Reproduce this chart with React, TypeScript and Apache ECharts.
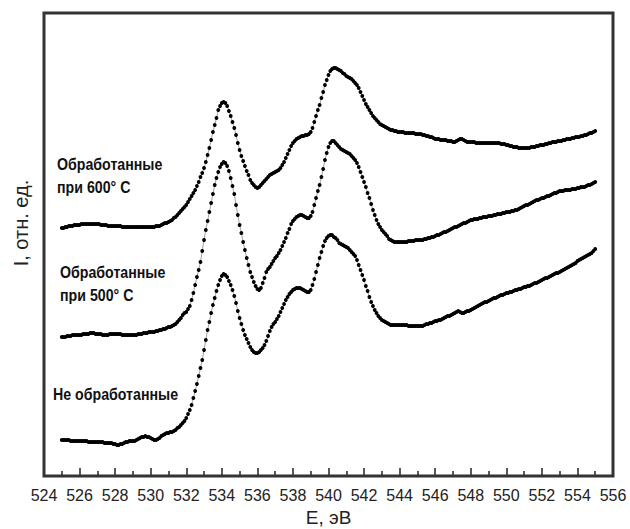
import React, { useEffect, useRef } from "react";
import * as echarts from "echarts";

// Energy grid of the spectra (eV): first point and sampling step
const ENERGY_START = 525;
const ENERGY_STEP = 0.1;

// Axis ticks (eV)
const X_MIN = 524;
const X_MAX = 556;
const X_INTERVAL = 2;
const Y_MIN = -6;
const Y_MAX = 457;

// Intensities (arbitrary units), one value per 0.1 eV from 525.0 to 555.0
const treated600 = [
  242,242,243,243,244,244,244,245,245,245,
  245,246,246,246,246,246,246,246,246,246,
  246,246,245,245,245,245,244,244,244,244,
  244,244,244,244,243,243,243,243,243,243,
  243,243,243,243,243,243,243,243,243,243,
  243,243,243,244,244,244,245,246,247,247,
  248,249,250,252,253,255,257,259,261,263,
  265,268,271,274,277,280,284,288,293,297,
  302,308,315,322,330,338,345,352,360,364,
  367,368,367,364,359,354,348,342,335,327,
  320,314,309,304,299,295,290,287,285,283,
  282,283,285,287,289,291,293,295,296,297,
  298,299,300,302,305,308,312,316,320,324,
  327,329,331,332,333,334,334,335,335,336,
  338,342,348,354,360,365,372,378,385,390,
  395,399,401,402,402,401,400,399,397,396,
  394,393,392,391,389,387,385,382,378,374,
  370,366,363,360,357,354,352,350,348,346,
  345,344,343,342,341,340,340,339,339,338,
  338,338,338,337,337,337,337,337,337,336,
  336,336,336,335,335,334,334,333,333,332,
  331,331,331,330,330,330,330,329,329,329,
  328,328,329,330,331,331,330,329,328,328,
  328,328,328,327,327,327,327,327,327,327,
  327,327,327,327,327,327,327,326,326,326,
  325,325,324,324,323,323,323,322,322,322,
  322,322,322,322,323,323,323,324,324,325,
  325,325,326,326,327,327,328,328,328,329,
  329,329,330,330,331,331,331,332,332,333,
  333,333,334,334,335,335,336,337,337,338,
  339,
];

const treated500 = [
  133,133,133,134,134,134,135,135,135,135,
  135,135,136,136,136,136,137,137,137,136,
  136,136,136,135,135,135,135,136,136,136,
  136,136,136,136,135,135,135,135,135,135,
  135,135,135,136,136,136,137,137,137,138,
  138,138,138,139,139,140,140,141,141,142,
  143,143,144,145,146,148,150,152,155,157,
  158,161,164,170,177,185,193,200,208,219,
  230,240,249,258,267,276,285,292,298,303,
  306,308,307,304,299,292,284,276,265,255,
  245,237,228,220,212,205,198,193,188,184,
  181,180,182,187,192,198,201,203,206,209,
  212,214,217,220,224,228,232,237,241,246,
  249,251,253,254,255,255,254,253,252,252,
  254,258,265,272,279,285,293,301,310,317,
  323,327,329,329,327,325,323,321,320,319,
  318,317,316,314,312,310,307,303,298,293,
  288,283,277,272,266,260,255,250,246,243,
  240,238,236,234,231,230,229,228,228,228,
  228,228,228,228,228,229,229,229,229,230,
  230,230,230,230,231,231,232,232,233,233,
  234,235,235,236,237,238,238,239,240,241,
  242,243,243,244,245,246,247,247,248,249,
  250,250,251,251,251,252,252,253,253,253,
  254,254,254,255,255,256,256,256,257,257,
  258,258,258,259,259,260,260,261,262,263,
  264,265,265,266,267,268,269,270,270,271,
  272,272,273,274,274,275,276,277,277,278,
  279,279,279,280,280,280,280,281,281,281,
  282,282,283,283,283,284,285,285,286,287,
  288,
];

const untreated = [
  30,30,30,30,30,29,29,29,29,29,
  29,29,29,29,29,28,28,28,28,28,
  28,28,28,28,27,27,27,27,27,26,
  26,25,25,26,26,27,28,28,29,29,
  29,29,30,31,32,33,33,34,33,33,
  32,31,30,30,31,32,34,35,36,37,
  37,38,38,39,40,42,43,45,47,49,
  52,56,60,65,72,79,86,94,102,110,
  120,130,140,148,157,165,172,179,185,190,
  194,196,195,193,189,185,180,174,167,159,
  152,146,140,135,131,127,123,120,118,117,
  117,118,120,122,125,129,134,139,143,146,
  148,151,154,158,162,166,170,173,176,178,
  180,181,182,182,182,181,180,179,178,178,
  180,185,191,198,205,212,218,224,229,232,
  234,235,235,233,232,230,227,226,225,224,
  223,222,220,218,216,214,210,205,200,195,
  190,184,179,173,168,164,160,157,154,152,
  150,149,148,147,146,145,145,145,145,145,
  145,145,145,145,145,144,144,144,144,144,
  144,144,144,144,145,146,146,147,147,148,
  149,149,150,150,151,152,153,154,154,155,
  156,157,158,159,158,157,157,158,159,159,
  160,161,162,163,164,165,166,167,168,168,
  169,170,171,172,172,173,174,175,175,176,
  177,177,178,178,179,180,180,181,181,182,
  183,183,184,184,185,186,187,187,188,189,
  190,191,192,192,193,194,195,196,197,197,
  198,199,200,201,202,203,204,205,206,207,
  209,210,211,212,213,214,215,216,217,219,
  221,
];

const seriesNames = ["Обработанные при 600° C", "Обработанные при 500° C", "Не обработанные"];
const xAxisTitle = "E, эВ";
const yAxisTitle = "I, отн. ед.";

const SANS = '"Liberation Sans", Arial, sans-serif';
const FRAME = "#333";
const GRID = { left: 44, right: 17, top: 13, bottom: 53 };
const W = 630;
const H = 529;

function toPairs(values: number[]) {
  return values.map((v, i) => [+(ENERGY_START + i * ENERGY_STEP).toFixed(2), v]);
}

function label(text: string, x: number, y: number) {
  return {
    type: "text",
    x,
    y,
    scaleX: 0.86,
    style: {
      text,
      font: `bold 16.5px ${SANS}`,
      fill: "#111",
      textAlign: "left",
      textVerticalAlign: "middle",
    },
  };
}

function frameLine(x1: number, y1: number, x2: number, y2: number) {
  return {
    type: "line",
    z: 50,
    silent: true,
    shape: { x1, y1, x2, y2 },
    style: { stroke: FRAME, lineWidth: 2 },
  };
}

export default function App() {
  const ref = useRef<HTMLDivElement>(null);
  useEffect(() => {
    if (!ref.current) return;
    const chart = echarts.init(ref.current, undefined, { renderer: "svg" });
    const mkSeries = (name: string, values: number[], withFrame = false) => ({
      name,
      type: "line",
      data: toPairs(values),
      symbol: "circle",
      symbolSize: 3.8,
      showSymbol: true,
      itemStyle: { color: "#000" },
      lineStyle: { color: "#777", width: 0.7 },
      ...(withFrame
        ? {
            markArea: {
              silent: true,
              label: { show: false },
              itemStyle: { color: "rgba(0,0,0,0)", borderColor: FRAME, borderWidth: 3 },
              data: [[{ xAxis: X_MIN, yAxis: Y_MIN }, { xAxis: X_MAX, yAxis: Y_MAX }]],
            },
          }
        : {}),
    });
    const x0 = GRID.left;
    const x1 = W - GRID.right;
    const y0 = GRID.top;
    const y1 = H - GRID.bottom;
    const frameAxisLine = { show: true, onZero: false, lineStyle: { color: FRAME, width: 1.6 } };
    chart.setOption({
      animation: false,
      backgroundColor: "#fff",
      grid: { ...GRID, containLabel: false, outerBoundsMode: "none" },
      xAxis: [
        {
          type: "value",
          position: "bottom",
          min: X_MIN,
          max: X_MAX,
          interval: X_INTERVAL,
          name: xAxisTitle,
          nameLocation: "middle",
          nameGap: 27,
          nameTextStyle: { fontFamily: SANS, fontSize: 19, color: "#222" },
          axisLine: { show: true, onZero: false, lineStyle: { color: "#222", width: 2 } },
          axisTick: { show: true, inside: true, length: 8, lineStyle: { color: "#222", width: 1.5 } },
          minorTick: { show: true, splitNumber: 2, length: 5, lineStyle: { color: "#222", width: 1.5 } },
          axisLabel: { fontFamily: SANS, fontSize: 16, color: "#222", margin: 11 },
          splitLine: { show: false },
        },
        {
          type: "value",
          position: "top",
          min: X_MIN,
          max: X_MAX,
          axisLine: frameAxisLine,
          axisTick: { show: false },
          axisLabel: { show: false },
          splitLine: { show: false },
        },
      ],
      yAxis: [
        {
          type: "value",
          position: "left",
          min: Y_MIN,
          max: Y_MAX,
          axisLine: frameAxisLine,
          axisTick: { show: false },
          axisLabel: { show: false },
          splitLine: { show: false },
        },
        {
          type: "value",
          position: "right",
          min: Y_MIN,
          max: Y_MAX,
          axisLine: frameAxisLine,
          axisTick: { show: false },
          axisLabel: { show: false },
          splitLine: { show: false },
        },
      ],
      series: [
        mkSeries(seriesNames[0], treated600, true),
        mkSeries(seriesNames[1], treated500),
        mkSeries(seriesNames[2], untreated),
      ],
      graphic: [
        {
          type: "rect",
          z: 50,
          shape: { x: x0, y: y0, width: x1 - x0, height: y1 - y0 },
          style: { fill: "none", stroke: FRAME, lineWidth: 2 },
        },
        frameLine(x0, y0, x1, y0),
        frameLine(x0, y0, x0, y1),
        frameLine(x1, y0, x1, y1),
        {
          type: "text",
          x: 21,
          y: 223,
          rotation: Math.PI / 2,
          style: {
            text: yAxisTitle,
            font: `20px ${SANS}`,
            fill: "#222",
            textAlign: "center",
            textVerticalAlign: "middle",
          },
        },
        label("Обработанные", 57, 164),
        label("при 600° C", 57, 187),
        label("Обработанные", 60, 272),
        label("при 500° C", 60, 295),
        label("Не обработанные", 53, 394),
      ],
    });
    return () => chart.dispose();
  }, []);
  return (
    <div
      ref={ref}
      style={{ position: "absolute", left: 0, top: 0, width: W, height: H }}
    />
  );
}
